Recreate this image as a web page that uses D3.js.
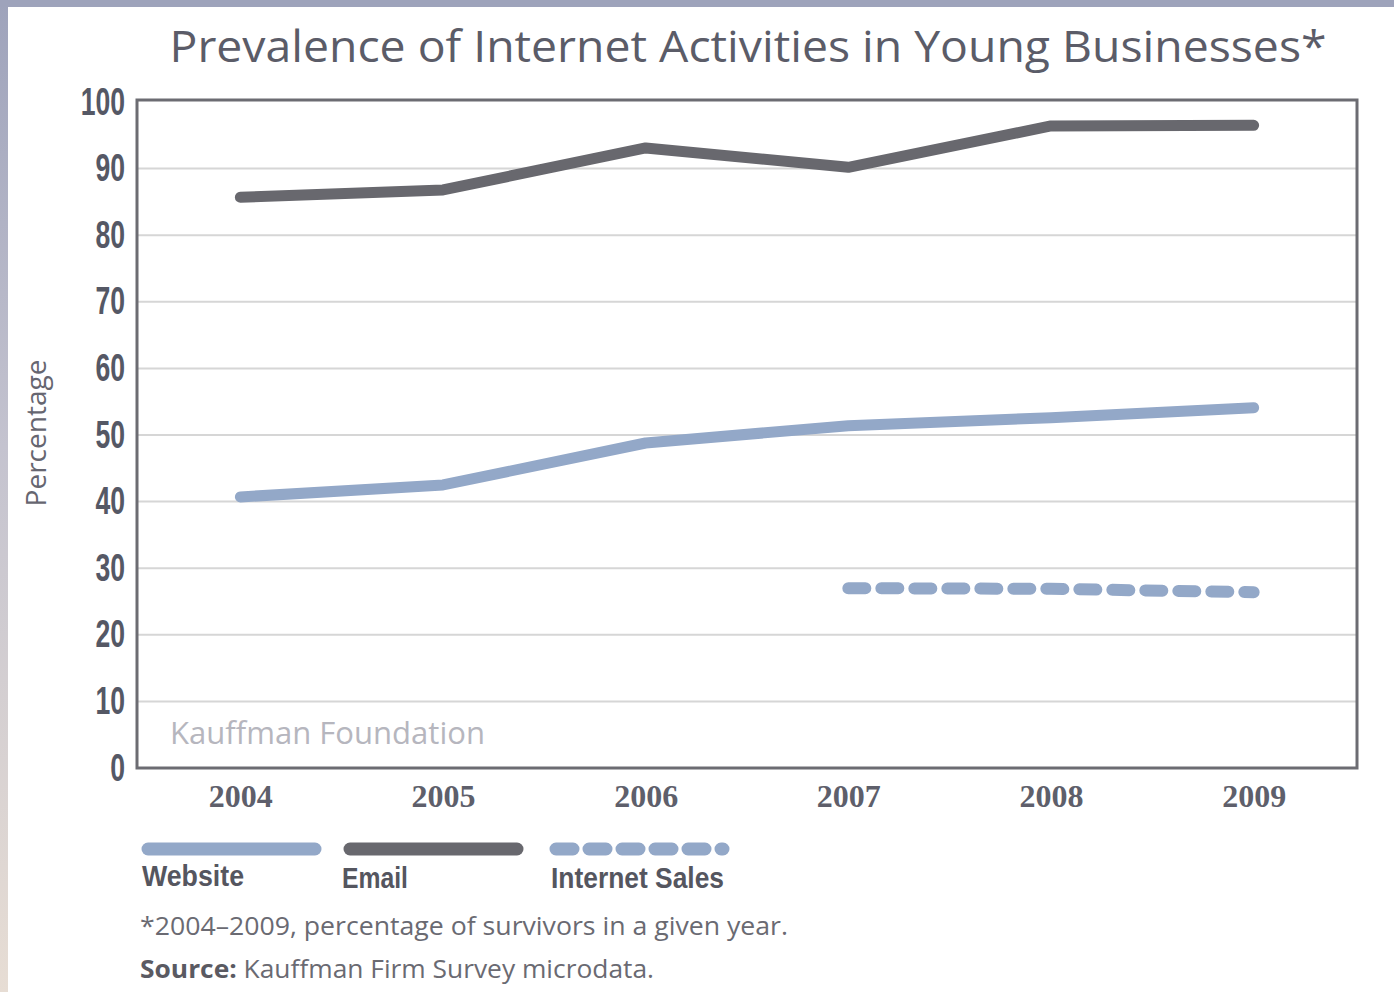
<!DOCTYPE html>
<html>
<head>
<meta charset="utf-8">
<script src="https://cdn.jsdelivr.net/npm/d3@7"></script>
<style>
  html, body { margin: 0; padding: 0; background: #fff; }
  svg { display: block; }
</style>
</head>
<body>
<script>
const width = 1394;
const height = 992;

// data
const years = [2004, 2005, 2006, 2007, 2008, 2009];
const website = [40.7, 42.5, 48.8, 51.4, 52.6, 54.1];
const email = [85.7, 86.8, 93.1, 90.2, 96.4, 96.5];
const salesYears = [2007, 2008, 2009];
const internetSales = [27.0, 26.9, 26.4];
const yTicks = [0, 10, 20, 30, 40, 50, 60, 70, 80, 90, 100];

const margin = {left: 137, right: 1357, top: 102, bottom: 768};

const x = d3.scalePoint().domain(years).range([margin.left, margin.right]).padding(0.51);
const y = d3.scaleLinear().domain([0, 100]).range([margin.bottom, margin.top]);

const svg = d3.select('body').append('svg')
    .attr('width', width)
    .attr('height', height);

// page edges (grey-blue top strip, fading left strip)
const grad = svg.append('defs').append('linearGradient')
    .attr('id', 'edge').attr('x1', 0).attr('y1', 0).attr('x2', 0).attr('y2', 1);
grad.append('stop').attr('offset', 0).attr('stop-color', '#9ea3bb');
grad.append('stop').attr('offset', 0.45).attr('stop-color', '#c4c3cf');
grad.append('stop').attr('offset', 1).attr('stop-color', '#e7ddd4');
svg.append('rect').attr('x', 0).attr('y', 0).attr('width', 8).attr('height', height).attr('fill', 'url(#edge)');
svg.append('rect').attr('x', 0).attr('y', 0).attr('width', width).attr('height', 7).attr('fill', '#9ea3bb');

// title
svg.append('text')
    .attr('x', 748).attr('y', 62)
    .attr('text-anchor', 'middle')
    .attr('font-family', '"Open Sans", sans-serif')
    .attr('font-size', 44)
    .attr('fill', '#5b5c68')
    .attr('textLength', 1157)
    .attr('lengthAdjust', 'spacingAndGlyphs')
    .text('Prevalence of Internet Activities in Young Businesses*');

// grid lines
svg.append('g').selectAll('line')
    .data(yTicks.slice(1, -1))
    .enter().append('line')
    .attr('x1', margin.left).attr('x2', margin.right)
    .attr('y1', d => y(d)).attr('y2', d => y(d))
    .attr('stroke', '#d6d6d6')
    .attr('stroke-width', 2);

// frame
svg.append('rect')
    .attr('x', margin.left).attr('y', margin.top - 2)
    .attr('width', margin.right - margin.left)
    .attr('height', margin.bottom - margin.top + 2)
    .attr('fill', 'none')
    .attr('stroke', '#6c6c72')
    .attr('stroke-width', 3);

// y axis labels (tall condensed digits)
const yAxis = svg.append('g')
    .attr('transform', `translate(${margin.left},0)`)
    .call(d3.axisLeft(y).tickValues(yTicks).tickSize(0).tickPadding(12));
yAxis.select('.domain').remove();
yAxis.selectAll('text')
    .attr('font-family', '"Liberation Sans", sans-serif')
    .attr('font-weight', 'bold')
    .attr('font-size', 38)
    .attr('fill', '#555865')
    .attr('transform', 'scale(0.7,1)')
    .attr('x', -17);

// x axis labels
const xAxis = svg.append('g')
    .attr('transform', `translate(0,${margin.bottom})`)
    .call(d3.axisBottom(x).tickSize(0).tickPadding(16));
xAxis.select('.domain').remove();
xAxis.selectAll('text')
    .attr('font-family', '"Liberation Serif", serif')
    .attr('font-weight', 'bold')
    .attr('font-size', 32)
    .attr('fill', '#5e5f6b')
    .attr('dy', '0.72em');

// y axis title
svg.append('text')
    .attr('transform', 'translate(46,433) rotate(-90)')
    .attr('text-anchor', 'middle')
    .attr('font-family', '"Open Sans", sans-serif')
    .attr('font-size', 28)
    .attr('fill', '#666670')
    .text('Percentage');

// watermark
svg.append('text')
    .attr('x', 170).attr('y', 744)
    .attr('font-family', '"Open Sans", sans-serif')
    .attr('font-size', 31)
    .attr('fill', '#b6b6be')
    .attr('textLength', 315)
    .attr('lengthAdjust', 'spacingAndGlyphs')
    .text('Kauffman Foundation');

const line = d3.line()
    .x(d => x(d[0]))
    .y(d => y(d[1]));

const blue = '#93a8c8';
const grey = '#68686e';

svg.append('path')
    .datum(years.map((yr, i) => [yr, website[i]]))
    .attr('d', line)
    .attr('fill', 'none')
    .attr('stroke', blue)
    .attr('stroke-width', 11)
    .attr('stroke-linecap', 'round')
    .attr('stroke-linejoin', 'round');

svg.append('path')
    .datum(years.map((yr, i) => [yr, email[i]]))
    .attr('d', line)
    .attr('fill', 'none')
    .attr('stroke', grey)
    .attr('stroke-width', 11)
    .attr('stroke-linecap', 'round')
    .attr('stroke-linejoin', 'round');

svg.append('path')
    .datum(salesYears.map((yr, i) => [yr, internetSales[i]]))
    .attr('d', line)
    .attr('fill', 'none')
    .attr('stroke', blue)
    .attr('stroke-width', 12)
    .attr('stroke-linecap', 'round')
    .attr('stroke-dasharray', '17,16');

// legend
const legend = [
    {name: 'Website', color: blue, dash: null, x: 143, tx: 142, w: 102},
    {name: 'Email', color: grey, dash: null, x: 345, tx: 342, w: 66},
    {name: 'Internet Sales', color: blue, dash: '17,16', x: 551, tx: 551, w: 173}
];
const lg = svg.append('g');
lg.selectAll('line')
    .data(legend)
    .enter().append('line')
    .attr('x1', d => d.x + 5).attr('x2', d => d.x + 172)
    .attr('y1', 849).attr('y2', 849)
    .attr('stroke', d => d.color)
    .attr('stroke-width', 13)
    .attr('stroke-linecap', 'round')
    .attr('stroke-dasharray', d => d.dash);
lg.selectAll('text')
    .data(legend)
    .enter().append('text')
    .attr('x', d => d.tx).attr('y', d => d.name === 'Website' ? 886 : 888)
    .attr('font-family', '"Liberation Sans", sans-serif')
    .attr('font-weight', 'bold')
    .attr('font-size', 29)
    .attr('fill', '#55565f')
    .attr('textLength', d => d.w)
    .attr('lengthAdjust', 'spacingAndGlyphs')
    .text(d => d.name);

// notes
svg.append('text')
    .attr('x', 140).attr('y', 935)
    .attr('font-family', '"Open Sans", sans-serif')
    .attr('font-size', 25)
    .attr('fill', '#6a6a72')
    .attr('textLength', 648)
    .attr('lengthAdjust', 'spacingAndGlyphs')
    .text('*2004–2009, percentage of survivors in a given year.');

const src = svg.append('text')
    .attr('x', 140).attr('y', 978)
    .attr('font-family', '"Open Sans", sans-serif')
    .attr('font-size', 25)
    .attr('fill', '#6a6a72')
    .attr('textLength', 514)
    .attr('lengthAdjust', 'spacingAndGlyphs');
src.append('tspan').attr('font-weight', 'bold').attr('fill', '#5a5a62').text('Source: ');
src.append('tspan').text('Kauffman Firm Survey microdata.');
</script>
</body>
</html>
